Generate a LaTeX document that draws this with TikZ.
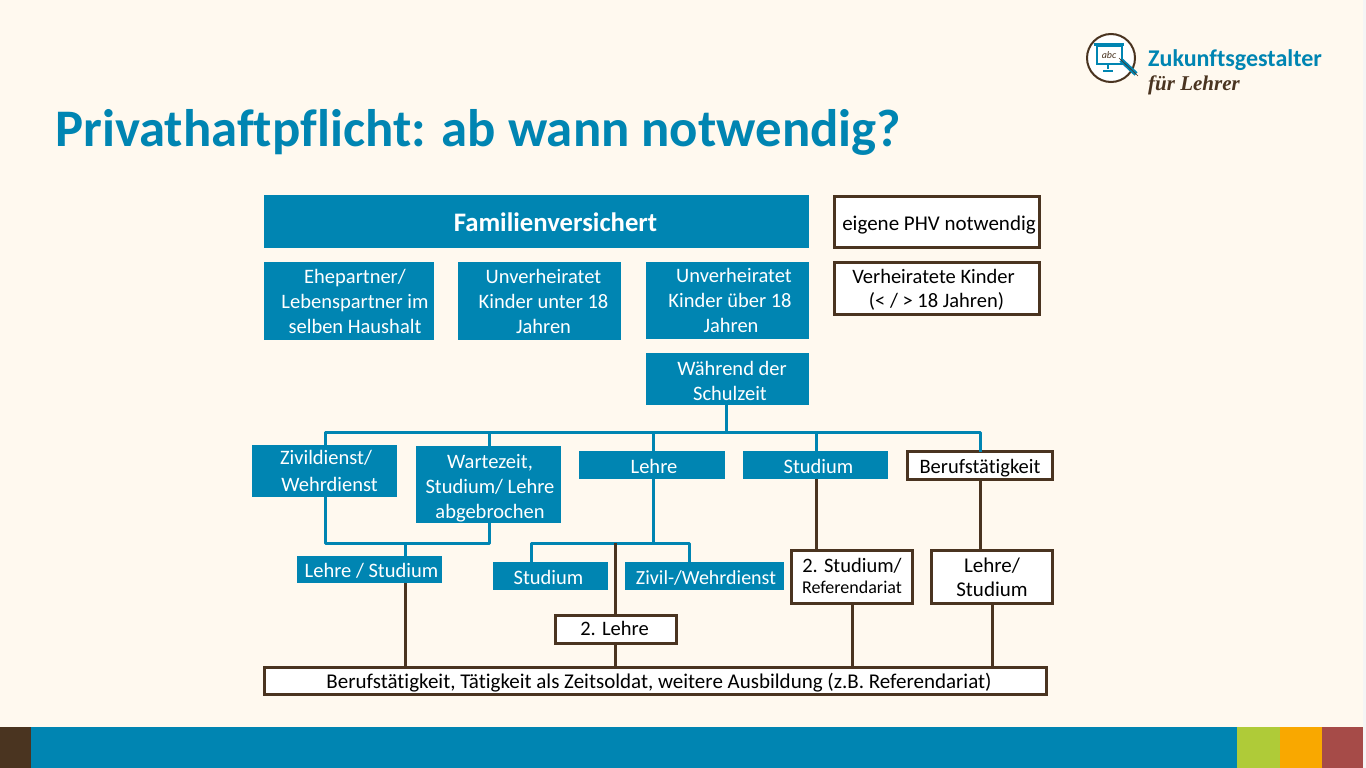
\documentclass[tikz,border=0pt]{standalone}
\usepackage{fontspec}
\setmainfont[Ligatures=NoCommon]{Carlito}
\newfontfamily\logoscript{Liberation Serif}
\definecolor{tealc}{HTML}{0085B2}
\definecolor{brownc}{HTML}{4A3420}
\definecolor{cream}{HTML}{FFF9EF}
\definecolor{greenc}{HTML}{AFCB38}
\definecolor{orangec}{HTML}{F9A800}
\definecolor{redc}{HTML}{A64B48}
\tikzset{
  boxbase/.style={inner sep=0pt,outer sep=0pt,align=center,font=\fontsize{20.5}{25}\selectfont},
  bluebox/.style={boxbase,fill=tealc,text=white},
  whitebox/.style={boxbase,fill=white,draw=brownc,line width=3pt,text=black},
  tealline/.style={draw=tealc,line width=3pt,line join=round},
  brownline/.style={draw=brownc,line width=3pt},
}
\newcommand{\bx}[7]{% style,name,x0,y0,x1,y1,text
  \node[#1,minimum width={(#5)-(#3)},minimum height={(#6)-(#4)},anchor=center] (#2) at ({((#3)+(#5))/2},{((#4)+(#6))/2}) {#7};}
\newcommand{\tp}[1]{\rule{0pt}{\dimexpr 15pt+#1pt*2\relax}}
\newcommand{\bt}{\rule[-5pt]{0pt}{5pt}}
\newcommand{\sh}[1]{\hspace*{\dimexpr #1pt*2\relax}}
\begin{document}
\begin{tikzpicture}[x=1pt,y=-1pt]
\useasboundingbox (0,0) rectangle (1366,768);
\fill[cream] (0,0) rectangle (1366,768);
% footer
\fill[tealc] (31,727) rectangle (1237,768);
\fill[brownc] (0,727) rectangle (31,768);
\fill[greenc] (1237,727) rectangle (1280,768);
\fill[orangec] (1280,727) rectangle (1322,768);
\fill[redc] (1322,727) rectangle (1363,768);
\fill[white!92!gray] (1363,0) rectangle (1366,768);
% title
\node[inner sep=0pt,anchor=west,text=tealc,font=\fontsize{52.8}{60}\selectfont\bfseries] (title) at (55,132) {Privathaftpflicht: ab wann notwendig?};
% logo
\draw[brownc,line width=2pt,fill=white] (1111,58) circle (24);
\fill[tealc] (1094,43) rectangle (1124,46);
\draw[tealc,line width=2pt,fill=white] (1097,46) rectangle (1122,64);
\draw[tealc,line width=2pt] (1108,64) -- (1108,69) (1103,71) -- (1113,71);
\node[inner sep=0pt,text=brownc,font=\fontsize{10}{10}\selectfont\itshape] (abc) at (1109,55) {abc};
\draw[tealc,line width=4.5pt] (1121,60) -- (1136,74);
\draw[brownc,line width=.6pt] (1119,58) -- (1138,76);
\node[inner sep=0pt,anchor=west,text=tealc,font=\fontsize{24}{26}\selectfont\bfseries] (logoa) at (1148,60) {Zukunftsgestalter};
\node[inner sep=0pt,anchor=west,text=brownc,font=\fontsize{21}{24}\logoscript\bfseries\itshape] (logob) at (1148,85) {für Lehrer};
% connector junctions
\coordinate (busL) at (325,432);
\coordinate (busW) at (489,432);
\coordinate (busLe) at (653,432);
\coordinate (busS) at (816,432);
\coordinate (busB) at (980,432);
\coordinate (busT) at (726,432);
\coordinate (midL) at (325,543);
\coordinate (midW) at (489,543);
\coordinate (midM) at (405,543);
\coordinate (leL) at (531,543);
\coordinate (leM) at (653,543);
\coordinate (leB) at (615,543);
\coordinate (leR) at (689,543);
\coordinate (xs) at (852,0);
\coordinate (xl) at (992,0);
% boxes
\bx{bluebox,font=\fontsize{26.7}{30}\selectfont\bfseries}{fam}{264}{195}{809}{248}{\tp{4.5}\sh{19}Familienversichert\bt}
\bx{bluebox}{ehe}{264}{262}{434}{340}{\tp{2.5}\sh{6}Ehepartner/\\\sh{6}Lebenspartner im\\\sh{6}selben Haushalt\bt}
\bx{bluebox}{unt}{458}{262}{621}{340}{\tp{2}\sh{4}Unverheiratet\\\sh{4}Kinder unter 18\\\sh{4}Jahren\bt}
\bx{bluebox}{ueb}{646}{262}{809}{339}{\tp{2}\sh{6.5}Unverheiratet\\\sh{2.5}Kinder über 18\\\sh{3.5}Jahren\bt}
\bx{bluebox}{wae}{646}{353}{809}{405}{\tp{3.5}\sh{4.5}Während der\\\sh{2.5}Schulzeit\bt}
\bx{whitebox,font=\fontsize{21}{25}\selectfont}{eig}{834.5}{196.5}{1039.5}{247.5}{\tp{3}\sh{2}eigene PHV notwendig\bt}
\bx{whitebox,font=\fontsize{20.5}{24}\selectfont}{ver}{834.5}{262.5}{1039.5}{314}{\tp{2}\sh{-3.5}Verheiratete Kinder\\\sh{-0.5}(< / > 18 Jahren)\bt}
\bx{bluebox,font=\fontsize{20.5}{27}\selectfont}{ziv}{252}{445}{397}{497}{\tp{1.8}\sh{1.5}Zivildienst/\\\sh{5}Wehrdienst\bt}
\bx{bluebox}{war}{416}{446}{561}{523}{\tp{3.5}\sh{1.5}Wartezeit,\\\sh{1.5}Studium/ Lehre\\\sh{1.5}abgebrochen\bt}
\bx{bluebox}{leh}{579}{451}{725}{479}{\tp{3}\sh{2}Lehre\bt}
\bx{bluebox}{stu}{743}{451}{888}{479}{\tp{3}\sh{3}Studium\bt}
\bx{whitebox}{ber}{907.5}{451.5}{1052.5}{479.5}{\tp{2.5}Berufstätigkeit\bt}
\bx{bluebox}{ls}{297}{556}{442}{583}{\tp{2.5}\sh{2}Lehre / Studium\bt}
\bx{bluebox}{st2}{493}{562}{608}{590}{\tp{3}\sh{-2}Studium\bt}
\bx{bluebox,font=\fontsize{20}{25}\selectfont}{zw}{625}{562}{784}{590}{\tp{3}\sh{1.5}Zivil-/Wehrdienst\bt}
\bx{whitebox}{l2}{555.5}{615.5}{676.5}{643.5}{\tp{0.5}\sh{-1.5}2. Lehre\bt}
\bx{whitebox,font=\fontsize{20.5}{21}\selectfont}{s2}{791.5}{550.5}{912.5}{603.5}{\tp{1.2}2. Studium/\\{\fontsize{18}{21}\selectfont Referendariat}\bt}
\bx{whitebox,font=\fontsize{21}{24}\selectfont}{lstd}{931.5}{550.5}{1052.5}{603.5}{\tp{2.7}Lehre/\\Studium\bt}
\bx{whitebox,font=\fontsize{21}{25}\selectfont}{end}{264.5}{667.5}{1046.5}{694.5}{\tp{2}\sh{3.5}Berufstätigkeit, Tätigkeit als Zeitsoldat, weitere Ausbildung (z.B. Referendariat)\bt}
% teal connectors
\draw[tealline] (wae.south -| busT) -- (busT);
\draw[tealline] (ziv.north -| busL) -- (busL) -- (busB) -- (ber.north -| busB);
\draw[tealline] (busW) -- (war.north -| busW);
\draw[tealline] (busLe) -- (leh.north -| busLe);
\draw[tealline] (busS) -- (stu.north -| busS);
\draw[tealline] (ziv.south -| midL) -- (midL) -- (midW) -- (war.south -| midW);
\draw[tealline] (midM) -- (ls.north -| midM);
\draw[tealline] (leh.south -| leM) -- (leM);
\draw[tealline] (st2.north -| leL) -- (leL) -- (leR) -- (zw.north -| leR);
% brown connectors
\draw[brownline] (ls.south -| midM) -- (end.north -| midM);
\draw[brownline] (leB) -- (l2.north -| leB);
\draw[brownline] (l2.south -| leB) -- (end.north -| leB);
\draw[brownline] (stu.south -| busS) -- (s2.north -| busS);
\draw[brownline] (ber.south -| busB) -- (lstd.north -| busB);
\draw[brownline] (s2.south -| xs) -- (end.north -| xs);
\draw[brownline] (lstd.south -| xl) -- (end.north -| xl);
\end{tikzpicture}
\end{document}
